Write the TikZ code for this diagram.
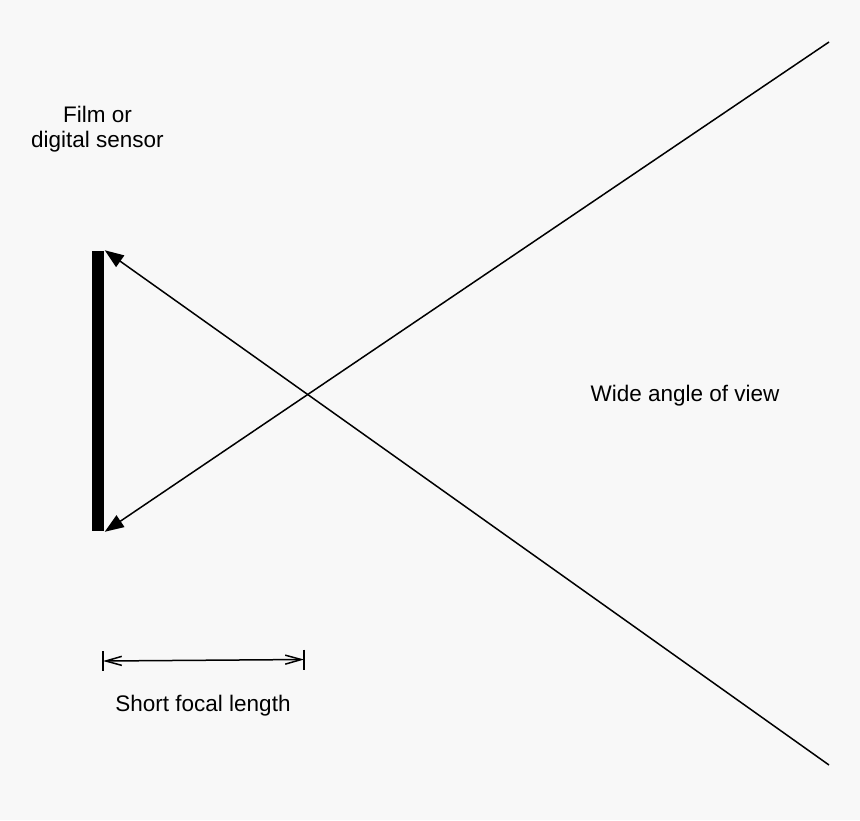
\documentclass[tikz,border=0pt]{standalone}
\usepackage{fontspec}
\setmainfont{Liberation Sans}
\usetikzlibrary{arrows.meta}
\definecolor{paper}{HTML}{F8F8F8}

\begin{document}
\begin{tikzpicture}[x=0.5pt,y=-0.5pt,line width=0.75pt,
    ray/.style={-{Triangle[length=9.5pt,width=7pt]}},
    label/.style={inner sep=0pt,anchor=base,align=center,font=\fontsize{11.25}{12.5}\selectfont}]
  \fill[paper] (0,0) rectangle (860,820);
  \useasboundingbox (0,0) rectangle (860,820);
  % sensor and rays
  \node[fill=black,inner sep=0pt,minimum width=6pt,minimum height=140pt] (sensor) at (98,391) {};
  \coordinate (farTop) at (829,42);
  \coordinate (farBot) at (829,765);
  \draw[ray] (farBot) -- (sensor.north east);
  \draw[ray] (farTop) -- (sensor.south east);
  \node[label] (sensorText) at (97.5,147.7) {Film or\\digital sensor};
  \node[label] (angleText) at (685,401) {Wide angle of view};
  % focal length
  \coordinate (dimL) at (103,661);
  \coordinate (dimR) at (304,659.5);
  \draw[{Straight Barb[length=8pt,width=4.5pt]}-{Straight Barb[length=8pt,width=4.5pt]}] (dimL) -- (dimR);
  \draw (dimL) ++(0,-10) -- ++(0,20);
  \draw (dimR) ++(0,-10) -- ++(0,20);
  \node[label] (focalText) at (203,711.7) {Short focal length};
\end{tikzpicture}
\end{document}
